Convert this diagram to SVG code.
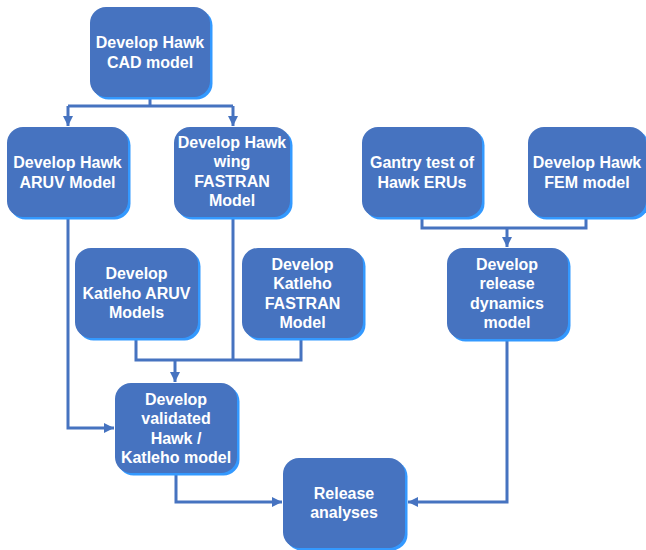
<svg xmlns="http://www.w3.org/2000/svg" width="646" height="550" viewBox="0 0 646 550">
<style>
.sh{fill:#3399FF}
.bx{fill:#4673C0}
.t{font-family:"Liberation Sans",Arial,sans-serif;font-weight:bold;font-size:16px;fill:#FFFFFF;text-anchor:middle}
.c{fill:none;stroke:#4673C0;stroke-width:3}
</style>
<defs>
<marker id="ah" markerUnits="userSpaceOnUse" markerWidth="12" markerHeight="12" refX="10" refY="6" orient="auto">
<path d="M0,1 L10,6 L0,11 Z" fill="#4673C0"/>
</marker>
</defs>
<rect width="646" height="550" fill="#FFFFFF"/>
<g id="connectors">
<polyline class="c" points="150,97 150,106"/>
<polyline class="c" points="68,106 233,106"/>
<polyline class="c" points="68,106 68,126" marker-end="url(#ah)"/>
<polyline class="c" points="233,106 233,126" marker-end="url(#ah)"/>
<polyline class="c" points="422,217 422,228 586,228 586,217"/>
<polyline class="c" points="507,228 507,247" marker-end="url(#ah)"/>
<polyline class="c" points="68,217 68,428 114,428" marker-end="url(#ah)"/>
<polyline class="c" points="233,217 233,360"/>
<polyline class="c" points="136,338 136,360 301,360 301,338"/>
<polyline class="c" points="175,360 175,382" marker-end="url(#ah)"/>
<polyline class="c" points="176,473 176,502 282,502" marker-end="url(#ah)"/>
<polyline class="c" points="507,340 507,502 408,502" marker-end="url(#ah)"/>
</g>
<g id="n1">
<rect class="sh" x="92.5" y="9.5" width="120" height="90" rx="16"/>
<rect class="bx" x="90" y="7" width="120" height="90" rx="16"/>
<text class="t" x="150" y="47.5">Develop Hawk</text>
<text class="t" x="150" y="67.5">CAD model</text>
</g>
<g id="n2">
<rect class="sh" x="9.5" y="129.5" width="121" height="90" rx="16"/>
<rect class="bx" x="7" y="127" width="121" height="90" rx="16"/>
<text class="t" x="67.5" y="167.5">Develop Hawk</text>
<text class="t" x="67.5" y="187.5">ARUV Model</text>
</g>
<g id="n3">
<rect class="sh" x="176.5" y="129.5" width="116" height="90" rx="16"/>
<rect class="bx" x="174" y="127" width="116" height="90" rx="16"/>
<text class="t" x="232" y="147.5">Develop Hawk</text>
<text class="t" x="232" y="167">wing</text>
<text class="t" x="232" y="186.5">FASTRAN</text>
<text class="t" x="232" y="206">Model</text>
</g>
<g id="n4">
<rect class="sh" x="364.5" y="129.5" width="120" height="90" rx="16"/>
<rect class="bx" x="362" y="127" width="120" height="90" rx="16"/>
<text class="t" x="422" y="167.5">Gantry test of</text>
<text class="t" x="422" y="187.5">Hawk ERUs</text>
</g>
<g id="n5">
<rect class="sh" x="530.5" y="129.5" width="118" height="90" rx="16"/>
<rect class="bx" x="528" y="127" width="118" height="90" rx="16"/>
<text class="t" x="587" y="167.5">Develop Hawk</text>
<text class="t" x="587" y="187.5">FEM model</text>
</g>
<g id="n6">
<rect class="sh" x="449.5" y="250.5" width="121" height="91" rx="16"/>
<rect class="bx" x="447" y="248" width="121" height="91" rx="16"/>
<text class="t" x="507" y="269.5">Develop</text>
<text class="t" x="507" y="289">release</text>
<text class="t" x="507" y="308.5">dynamics</text>
<text class="t" x="507" y="328">model</text>
</g>
<g id="n7">
<rect class="sh" x="77.5" y="250.5" width="123" height="90" rx="16"/>
<rect class="bx" x="75" y="248" width="123" height="90" rx="16"/>
<text class="t" x="136.5" y="279">Develop</text>
<text class="t" x="136.5" y="298.5">Katleho ARUV</text>
<text class="t" x="136.5" y="318">Models</text>
</g>
<g id="n8">
<rect class="sh" x="244.5" y="250.5" width="121" height="90" rx="16"/>
<rect class="bx" x="242" y="248" width="121" height="90" rx="16"/>
<text class="t" x="302.5" y="269.5">Develop</text>
<text class="t" x="302.5" y="289">Katleho</text>
<text class="t" x="302.5" y="308.5">FASTRAN</text>
<text class="t" x="302.5" y="328">Model</text>
</g>
<g id="n9">
<rect class="sh" x="117.5" y="385.5" width="122" height="90" rx="16"/>
<rect class="bx" x="115" y="383" width="122" height="90" rx="16"/>
<text class="t" x="176" y="404.5">Develop</text>
<text class="t" x="176" y="424">validated</text>
<text class="t" x="176" y="443.5">Hawk /</text>
<text class="t" x="176" y="463">Katleho model</text>
</g>
<g id="n10">
<rect class="sh" x="285.5" y="460.5" width="122" height="90" rx="16"/>
<rect class="bx" x="283" y="458" width="122" height="90" rx="16"/>
<text class="t" x="344" y="498.5">Release</text>
<text class="t" x="344" y="518">analyses</text>
</g>
</svg>
